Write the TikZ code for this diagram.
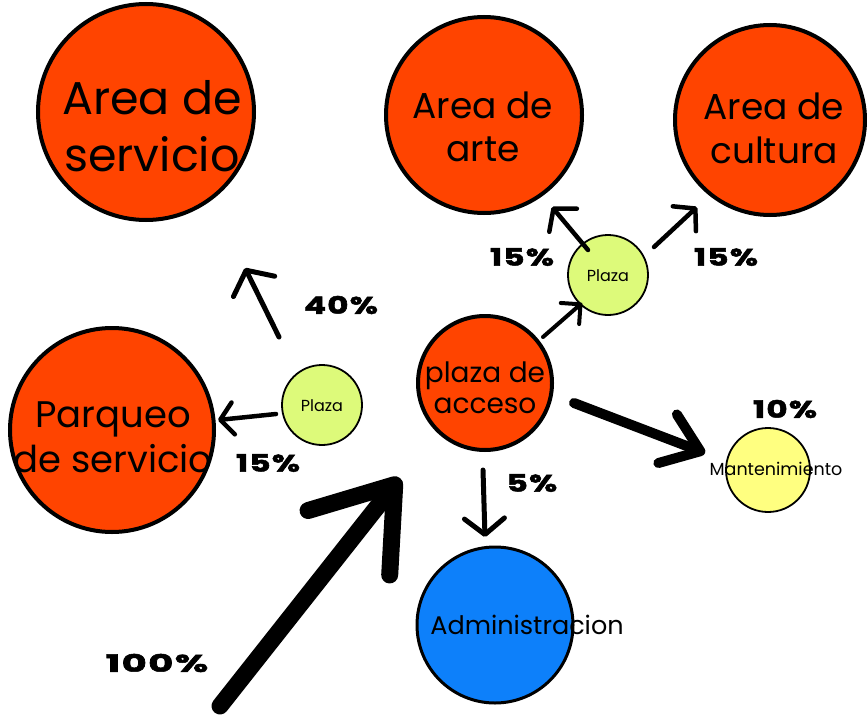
\documentclass[tikz,border=0pt]{standalone}
\usepackage{fontspec}
\usepackage{graphicx}
\setmainfont{Poppins}
\usetikzlibrary{arrows.meta}
\definecolor{orng}{RGB}{255,68,0}
\definecolor{lgreen}{RGB}{221,250,122}
\definecolor{lyellow}{RGB}{255,255,128}
\definecolor{blu}{RGB}{13,128,250}
\newcommand\pcttxt[2][1.35]{\scalebox{#1}[1]{#2}}
\tikzset{
  bigcirc/.style={circle,draw=black,line width=4pt,fill=orng,inner sep=0pt,minimum size=#1},
  smallcirc/.style={circle,draw=black,line width=1.8pt,fill=#1,inner sep=0pt,minimum size=80pt},
  bigtxt/.style 2 args={align=center,inner sep=0pt,font=\fontsize{#1}{#2}\selectfont},
  pct/.style={inner sep=0pt,font=\fontsize{24}{24}\selectfont\bfseries\addfontfeature{LetterSpace=4,FakeBold=2}},
  arr/.style={line width=#1,line cap=round,line join=round},
}
\begin{document}
\begin{tikzpicture}[x=1pt,y=-1pt]
\useasboundingbox (0,0) rectangle (867,717);
% circles
\node[bigcirc=216pt] (serv) at (146,112) {};
\node[bigcirc=196pt] (arte) at (484,115) {};
\node[bigcirc=190pt] (cult) at (770,120) {};
\node[bigcirc=204pt] (parq) at (112,430) {};
\node[bigcirc=134pt] (acc) at (485,383) {};
\node[smallcirc=lgreen] (pl1) at (322,405) {};
\node[smallcirc=lgreen] (pl2) at (608,275) {};
\node[smallcirc=lyellow,minimum size=84pt] (mant) at (768,470) {};
\node[circle,draw=black,line width=3pt,fill=blu,inner sep=0pt,minimum size=156pt] (adm) at (495,625) {};
% texts
\node[bigtxt={46}{57}] (tserv) at (152,126) {Area de\\servicio};
\node[bigtxt={36}{43}] (tarte) at (483,127) {Area de\\arte};
\node[bigtxt={36}{44}] (tcult) at (774,128) {Area de\\cultura};
\node[bigtxt={37}{45}] (tparq) at (113,437) {Parqueo\\de servicio};
\node[bigtxt={28}{31}] (tacc) at (485,388) {plaza de\\acceso};
\node[inner sep=0pt,font=\fontsize{16}{16}\selectfont] (tpl1) at (322,406) {Plaza};
\node[inner sep=0pt,font=\fontsize{16}{16}\selectfont] (tpl2) at (608,276) {Plaza};
\node[inner sep=0pt,font=\fontsize{17.5}{17.5}\selectfont] (tmant) at (776,469) {Mantenimiento};
\node[inner sep=0pt,font=\fontsize{25.5}{25.5}\selectfont] (tadm) at (527,625) {Administracion};
% percentages
\node[pct] (p40) at (341,305) {\pcttxt{40\%}};
\node[pct] (p15a) at (268,463) {\pcttxt{15\%}};
\node[pct] (p15b) at (522,257) {\pcttxt{15\%}};
\node[pct] (p15c) at (726,257) {\pcttxt{15\%}};
\node[pct] (p10) at (785,409) {\pcttxt{10\%}};
\node[pct] (p5) at (532,483) {\pcttxt{5\%}};
\node[pct] (p100) at (157,663) {\pcttxt[1.6]{100\%}};
% arrow coordinates
\coordinate (a1s) at (279,337); \coordinate (a1e) at (245,268);
\coordinate (a2s) at (276,414); \coordinate (a2e) at (218,420);
\coordinate (a3s) at (588,250); \coordinate (a3e) at (552,207);
\coordinate (a4s) at (654,247); \coordinate (a4e) at (697,207);
\coordinate (a5s) at (543,337); \coordinate (a5e) at (582,303);
\coordinate (a6s) at (574,403); \coordinate (a6e) at (705,453);
\coordinate (a7s) at (483,470); \coordinate (a7e) at (485,537);
\coordinate (a8s) at (220,706); \coordinate (a8e) at (400,478);
% arrows
\draw[arr=5pt,-{Straight Barb[round,length=18pt,width=46pt]}] (a1s) -- (a1e);
\draw[arr=4.5pt,-{Straight Barb[round,length=13pt,width=32pt]}] (a2s) -- (a2e);
\draw[arr=4.5pt,-{Straight Barb[round,length=15pt,width=36pt]}] (a3s) -- (a3e);
\draw[arr=4.5pt,-{Straight Barb[round,length=15pt,width=34pt]}] (a4s) -- (a4e);
\draw[arr=4pt,-{Straight Barb[round,length=14pt,width=28pt]}] (a5s) -- (a5e);
\draw[arr=10pt,-{Straight Barb[round,length=35pt,width=52pt]}] (a6s) -- (a6e);
\draw[arr=5pt,-{Straight Barb[round,length=16pt,width=40pt]}] (a7s) -- (a7e);
\draw[arr=17pt,-{Straight Barb[round,length=74pt,width=104pt]}] (a8s) -- (a8e);
\end{tikzpicture}
\end{document}
